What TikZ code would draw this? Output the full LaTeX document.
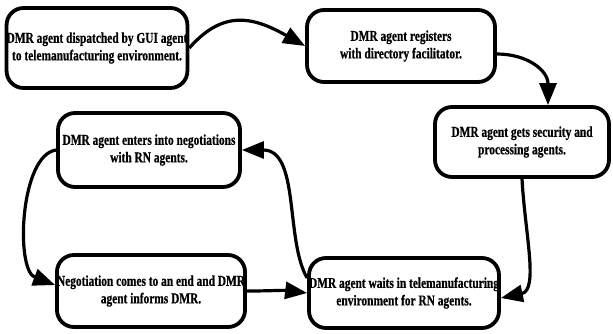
\documentclass[tikz,border=0pt]{standalone}
\usepackage{fontspec}
\newfontfamily\boxfont{Liberation Serif}[FakeStretch=0.76,FakeBold=0.6]
\usetikzlibrary{arrows.meta,calc}
\begin{document}
\begin{tikzpicture}[x=1pt,y=-1pt,
  stepbox/.style={draw=black, line width=3.8pt, rounded corners=17pt, fill=white,
    align=center, inner sep=0pt,
    font=\boxfont\bfseries\fontsize{15}{17.5}\selectfont},
  flow/.style={draw=black, line width=3.2pt,
    -{Triangle[length=22pt,width=17pt]}}]
  \useasboundingbox (0,0) rectangle (613,334);

  % process steps
  \node[stepbox, minimum width=180pt, minimum height=80pt] (b1) at (97,48)
    {DMR agent dispatched by GUI agent\\to telemanufacturing environment.};
  \node[stepbox, minimum width=188pt, minimum height=72pt] (b2) at (401,46)
    {DMR agent registers\\with directory facilitator.};
  \node[stepbox, minimum width=174pt, minimum height=70pt] (b3) at (522,142)
    {DMR agent gets security and\\processing agents.};
  \node[stepbox, minimum width=182pt, minimum height=74pt] (b4) at (149,150)
    {DMR agent enters into negotiations\\with RN agents.};
  \node[stepbox, minimum width=183pt, minimum height=72pt] (b5) at (151,291)
    {Negotiation comes to an end and DMR\\agent informs DMR.};
  \node[stepbox, minimum width=182pt, minimum height=70pt] (b6) at (404,293)
    {DMR agent waits in telemanufacturing\\environment for RN agents.};

  % transitions
  \draw[flow] (b1.east) .. controls +(35,-40) and +(-50,-28) .. (b2.west);
  \draw[flow] ($(b2.east)+(0,8)$) .. controls +(30,0) and +(0,-35) .. ($(b3.north)+(26,0)$);
  \draw[flow] (b3.south) .. controls +(3,55) and +(38,-8) .. ($(b6.east)+(0,5)$);
  \draw[flow] ($(b6.west)+(0,-15)$) .. controls (285,240) and (300,150) .. (b4.east);
  \draw[flow] (b4.west) .. controls (20,155) and (15,270) .. ($(b5.west)+(0,-6)$);
  \draw[flow] (b5.east) .. controls +(25,0) and +(-25,-3) .. (b6.west);
\end{tikzpicture}
\end{document}
